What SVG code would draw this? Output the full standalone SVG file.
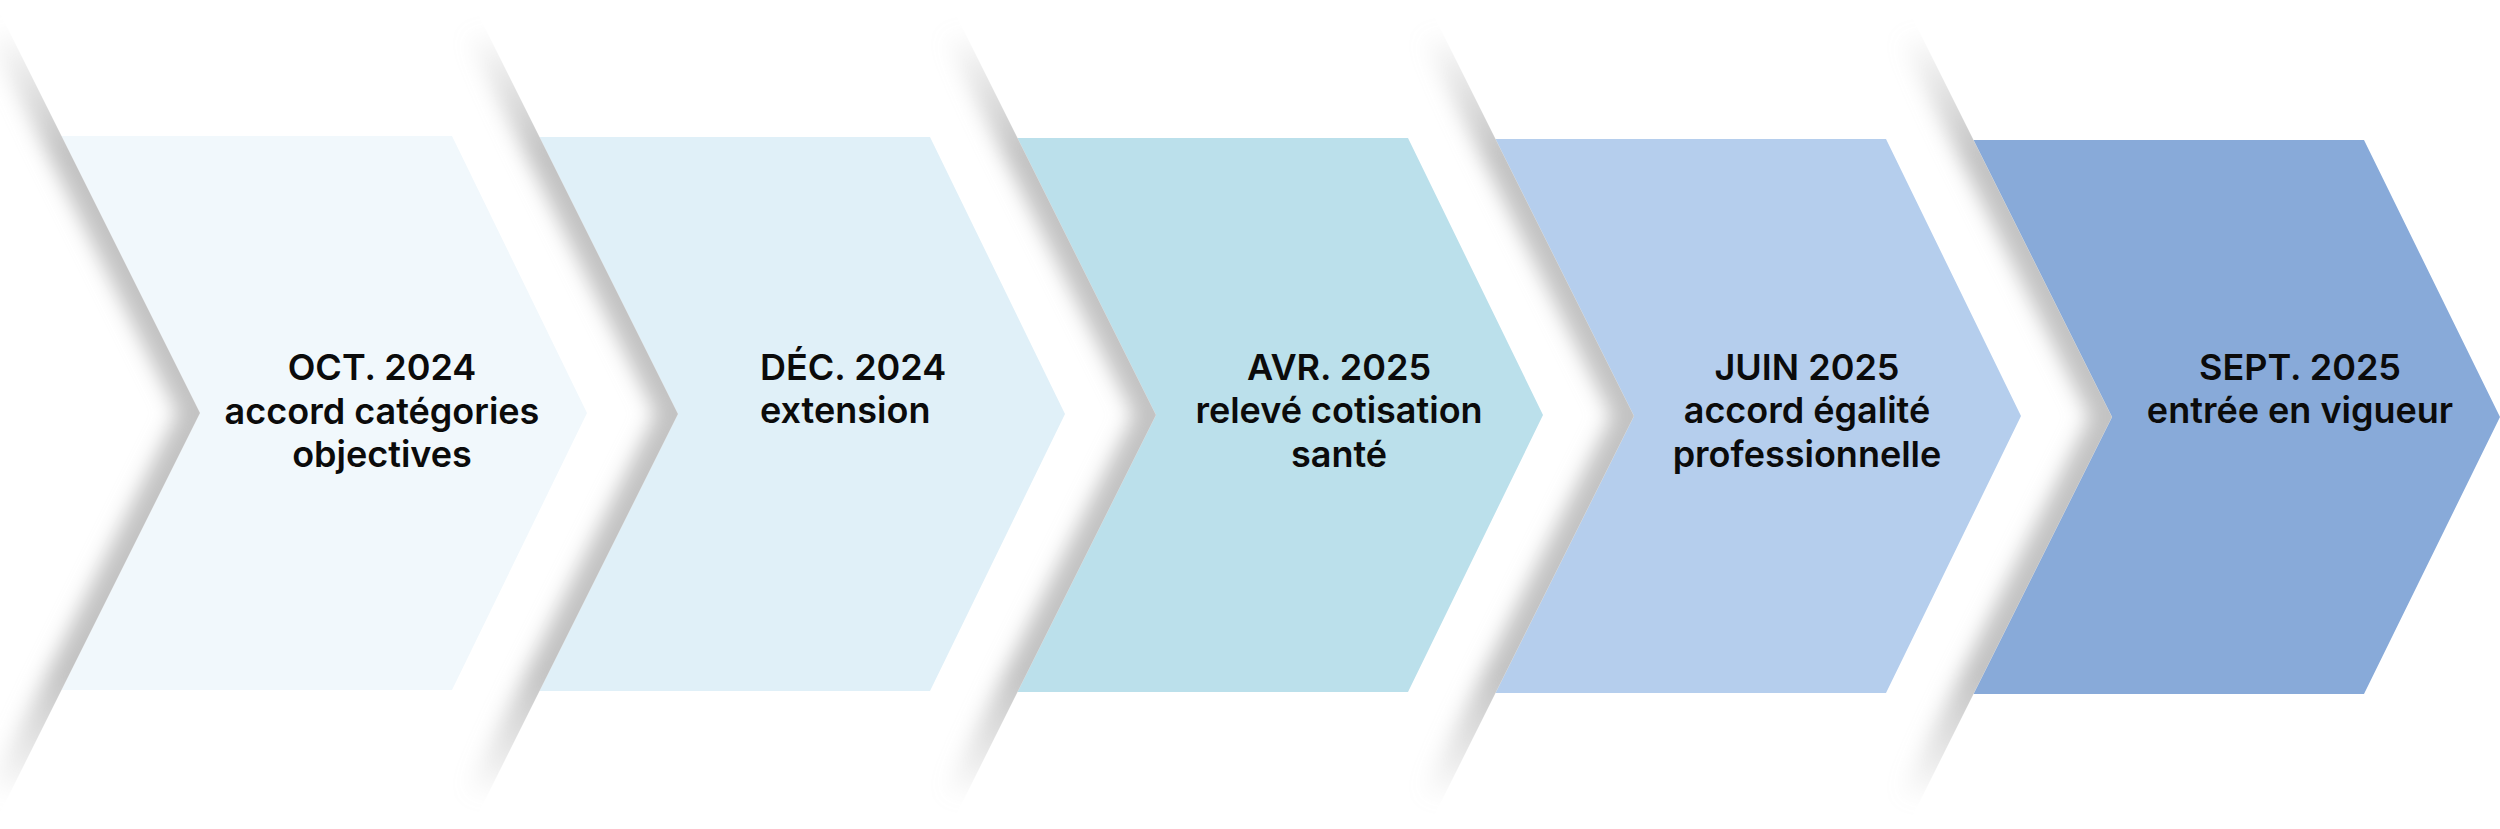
<svg xmlns="http://www.w3.org/2000/svg" width="2500" height="829" viewBox="0 0 2500 829">
  <defs>
    <style>
      .lbl { font-family: "Inter", "Liberation Sans", sans-serif; font-weight: 600; font-size: 36px; fill: #0b0b0b; text-anchor: middle; }
      .lbl-left { text-anchor: start; }
      .n1 { fill: #F1F8FC; }
      .n2 { fill: #E0F0F8; }
      .n3 { fill: #BBE0EB; }
      .n4 { fill: #B5CEED; }
      .n5 { fill: #88AAD9; }
      .shade { fill: none; stroke: url(#shFade); stroke-width: 40; stroke-linejoin: miter; filter: url(#soft); }
    </style>
    <linearGradient id="shFade" x1="0" y1="0" x2="0" y2="1">
      <stop offset="0" stop-color="#c2c2c2" stop-opacity="0"/>
      <stop offset="0.16" stop-color="#c2c2c2" stop-opacity="1"/>
      <stop offset="0.84" stop-color="#c2c2c2" stop-opacity="1"/>
      <stop offset="1" stop-color="#c2c2c2" stop-opacity="0"/>
    </linearGradient>
    <filter id="soft" x="-50%" y="-20%" width="200%" height="140%">
      <feGaussianBlur stdDeviation="10"/>
    </filter>
    <clipPath id="clipL" clipPathUnits="userSpaceOnUse">
      <polygon points="-300,0 -6.5,0 200,413 -8,829 -300,829"/>
    </clipPath>
  </defs>

  <rect x="0" y="0" width="2500" height="829" fill="#ffffff"/>

  <g id="node-1">
    <polygon class="n1" points="61.5,136 452,136 587,413 452,690 61.5,690 200,413"/>
    <text class="lbl"><tspan x="382" y="380">OCT. 2024</tspan><tspan x="382" y="424">accord catégories</tspan><tspan x="382" y="467">objectives</tspan></text>
  </g>

  <g id="node-2">
    <polygon class="n2" points="539.5,137 930,137 1065,414 930,691 539.5,691 678,414"/>
    <text class="lbl lbl-left"><tspan x="760" y="380">DÉC. 2024</tspan><tspan x="760" y="423">extension</tspan></text>
  </g>

  <g id="node-3">
    <polygon class="n3" points="1017.5,138 1408,138 1543,415 1408,692 1017.5,692 1156,415"/>
    <text class="lbl"><tspan x="1339" y="380">AVR. 2025</tspan><tspan x="1339" y="423">relevé cotisation</tspan><tspan x="1339" y="467">santé</tspan></text>
  </g>

  <g id="node-4">
    <polygon class="n4" points="1495.5,139 1886,139 2021,416 1886,693 1495.5,693 1634,416"/>
    <text class="lbl"><tspan x="1807" y="380">JUIN 2025</tspan><tspan x="1807" y="423">accord égalité</tspan><tspan x="1807" y="467">professionnelle</tspan></text>
  </g>

  <g id="node-5">
    <polygon class="n5" points="1973.5,140 2364,140 2500,417 2364,694 1973.5,694 2112,417"/>
    <text class="lbl"><tspan x="2300" y="380">SEPT. 2025</tspan><tspan x="2300" y="423">entrée en vigueur</tspan></text>
  </g>

  <g id="separators">
    <g transform="translate(0,0)" clip-path="url(#clipL)"><polyline class="shade" points="7.5,28 200,413 7.5,798"/></g>
    <g transform="translate(478,1)" clip-path="url(#clipL)"><polyline class="shade" points="7.5,28 200,413 7.5,798"/></g>
    <g transform="translate(956,2)" clip-path="url(#clipL)"><polyline class="shade" points="7.5,28 200,413 7.5,798"/></g>
    <g transform="translate(1434,3)" clip-path="url(#clipL)"><polyline class="shade" points="7.5,28 200,413 7.5,798"/></g>
    <g transform="translate(1912,4)" clip-path="url(#clipL)"><polyline class="shade" points="7.5,28 200,413 7.5,798"/></g>
  </g>

  <g id="connectors"/>
</svg>
